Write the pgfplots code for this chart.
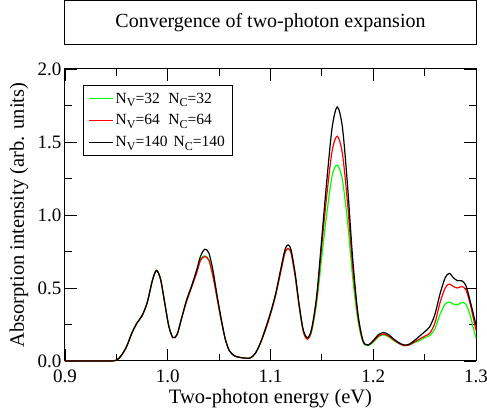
\documentclass[border=0pt]{standalone}
\usepackage{fontspec}
\setmainfont{Liberation Serif}
\usepackage{pgfplots}
\pgfplotsset{compat=1.18}

\definecolor{cgreen}{RGB}{0,255,0}
\definecolor{cred}{RGB}{255,0,0}
\newcommand{\sub}[1]{\raisebox{-3.5pt}{\fontsize{12}{13}\selectfont #1}}

\pgfplotstableread{
x y
0.900 0
0.940 0
0.950 0.005
0.955 0.04
0.960 0.10
0.965 0.19
0.970 0.26
0.975 0.31
0.980 0.40
0.985 0.55
0.989 0.62
0.993 0.56
0.997 0.40
1.001 0.24
1.005 0.16
1.009 0.18
1.013 0.28
1.018 0.41
1.023 0.51
1.028 0.62
1.032 0.72
1.036 0.765
1.040 0.74
1.044 0.62
1.048 0.45
1.052 0.29
1.056 0.15
1.060 0.07
1.065 0.035
1.070 0.025
1.075 0.02
1.080 0.02
1.085 0.05
1.090 0.12
1.095 0.22
1.100 0.33
1.105 0.46
1.110 0.63
1.114 0.76
1.117 0.795
1.120 0.76
1.124 0.60
1.128 0.38
1.132 0.21
1.136 0.16
1.140 0.22
1.145 0.45
1.150 0.85
1.155 1.25
1.160 1.60
1.165 1.74
1.170 1.60
1.175 1.20
1.180 0.70
1.185 0.33
1.190 0.14
1.195 0.11
1.200 0.14
1.205 0.18
1.210 0.195
1.215 0.18
1.220 0.15
1.225 0.125
1.230 0.11
1.235 0.115
1.240 0.14
1.245 0.17
1.250 0.20
1.255 0.235
1.260 0.32
1.265 0.46
1.270 0.57
1.274 0.60
1.278 0.57
1.282 0.55
1.286 0.55
1.290 0.52
1.294 0.42
1.300 0.245
}\blackdata

\pgfplotstableread{
x y
0.900 0
0.940 0
0.950 0.005
0.955 0.04
0.960 0.10
0.965 0.19
0.970 0.26
0.975 0.31
0.980 0.40
0.985 0.55
0.989 0.62
0.993 0.56
0.997 0.40
1.001 0.24
1.005 0.16
1.009 0.18
1.013 0.28
1.018 0.40
1.023 0.50
1.028 0.60
1.032 0.69
1.036 0.715
1.040 0.69
1.044 0.58
1.048 0.43
1.052 0.28
1.056 0.15
1.060 0.07
1.065 0.035
1.070 0.025
1.075 0.02
1.080 0.02
1.085 0.05
1.090 0.12
1.095 0.21
1.100 0.32
1.105 0.45
1.110 0.61
1.114 0.74
1.117 0.77
1.120 0.74
1.124 0.58
1.128 0.37
1.132 0.20
1.136 0.15
1.140 0.21
1.145 0.43
1.150 0.80
1.155 1.15
1.160 1.44
1.165 1.54
1.170 1.42
1.175 1.08
1.180 0.64
1.185 0.31
1.190 0.135
1.195 0.11
1.200 0.135
1.205 0.17
1.210 0.185
1.215 0.17
1.220 0.145
1.225 0.12
1.230 0.105
1.235 0.11
1.240 0.13
1.245 0.15
1.250 0.17
1.255 0.19
1.260 0.26
1.265 0.40
1.270 0.50
1.274 0.527
1.278 0.51
1.282 0.50
1.286 0.51
1.290 0.49
1.294 0.40
1.300 0.21
}\reddata

\pgfplotstableread{
x y
0.900 0
0.940 0
0.950 0.005
0.955 0.04
0.960 0.10
0.965 0.19
0.970 0.26
0.975 0.31
0.980 0.40
0.985 0.55
0.989 0.62
0.993 0.56
0.997 0.40
1.001 0.24
1.005 0.16
1.009 0.18
1.013 0.28
1.018 0.41
1.023 0.51
1.028 0.61
1.032 0.70
1.036 0.72
1.040 0.695
1.044 0.585
1.048 0.43
1.052 0.28
1.056 0.15
1.060 0.07
1.065 0.035
1.070 0.025
1.075 0.02
1.080 0.02
1.085 0.05
1.090 0.12
1.095 0.22
1.100 0.33
1.105 0.46
1.110 0.62
1.114 0.74
1.117 0.77
1.120 0.74
1.124 0.58
1.128 0.37
1.132 0.20
1.136 0.15
1.140 0.20
1.145 0.40
1.150 0.72
1.155 1.02
1.160 1.27
1.165 1.342
1.170 1.24
1.175 0.95
1.180 0.57
1.185 0.28
1.190 0.13
1.195 0.105
1.200 0.13
1.205 0.165
1.210 0.18
1.215 0.165
1.220 0.14
1.225 0.12
1.230 0.105
1.235 0.11
1.240 0.125
1.245 0.14
1.250 0.16
1.255 0.175
1.260 0.22
1.265 0.32
1.270 0.39
1.274 0.404
1.278 0.39
1.282 0.385
1.286 0.40
1.290 0.39
1.294 0.32
1.300 0.155
}\greendata

\begin{document}
\begin{tikzpicture}
\begin{axis}[
  scale only axis,
  width=411pt, height=292pt,
  xmin=0.9, xmax=1.3, ymin=0, ymax=2,
  xtick={0.9,1.0,1.1,1.2,1.3},
  ytick={0,0.5,1.0,1.5,2.0},
  minor xtick={0.95,1.05,1.15,1.25},
  minor ytick={0.25,0.75,1.25,1.75},
  xticklabels={0.9,1.0,1.1,1.2,1.3},
  yticklabels={0.0,0.5,1.0,1.5,2.0},
  /pgf/number format/assume math mode=true,
  tick align=inside,
  major tick length=12pt,
  minor tick length=7pt,
  every tick/.style={black, line width=0.8pt},
  axis line style={line width=1pt},
  tick label style={font=\fontsize{19}{22}\selectfont},
  xticklabel style={anchor=base, yshift=-22pt},
  label style={font=\fontsize{20.5}{24}\selectfont},
  xlabel={Two-photon energy (eV)},
  ylabel={Absorption intensity (arb. units)},
  xlabel style={at={(axis description cs:0.5,0)}, anchor=base, yshift=-43pt},
  ylabel style={at={([xshift=-41pt]axis description cs:0,0.5)}, anchor=base},
  clip=false,
  legend style={at={(rel axis cs:0.044,0.945)}, anchor=north west,
    font=\fontsize{15.5}{18}\selectfont, draw=black, line width=0.8pt,
    inner xsep=5pt, inner ysep=5.5pt, row sep=6pt},
  legend cell align=left,
  legend image code/.code={\draw[#1, line width=1.2pt] (0pt,0pt) -- (24pt,0pt);},
]
\addplot[cgreen, line width=1.2pt, smooth, tension=0.5] table {\greendata};
\addlegendentry{N\sub{V}=32\hspace{0.55em}N\sub{C}=32}
\addplot[cred, line width=1.2pt, smooth, tension=0.5] table {\reddata};
\addlegendentry{N\sub{V}=64\hspace{0.55em}N\sub{C}=64}
\addplot[black, line width=1.2pt, smooth, tension=0.5] table {\blackdata};
\addlegendentry{N\sub{V}=140\hspace{0.4em}N\sub{C}=140}
\node[draw=black, line width=0.8pt, anchor=south, minimum width=412pt, minimum height=44pt,
  inner sep=0pt, font=\fontsize{20}{24}\selectfont]
  at ([yshift=24pt]rel axis cs:0.5,1) {Convergence of two-photon expansion};
\coordinate (bl) at (rel axis cs:0,0);
\coordinate (tr) at (rel axis cs:1,1);
\end{axis}
\pgfresetboundingbox
\path[use as bounding box] ([xshift=-65pt,yshift=-55pt]bl) rectangle ([xshift=11pt,yshift=69pt]tr);
\end{tikzpicture}
\end{document}
